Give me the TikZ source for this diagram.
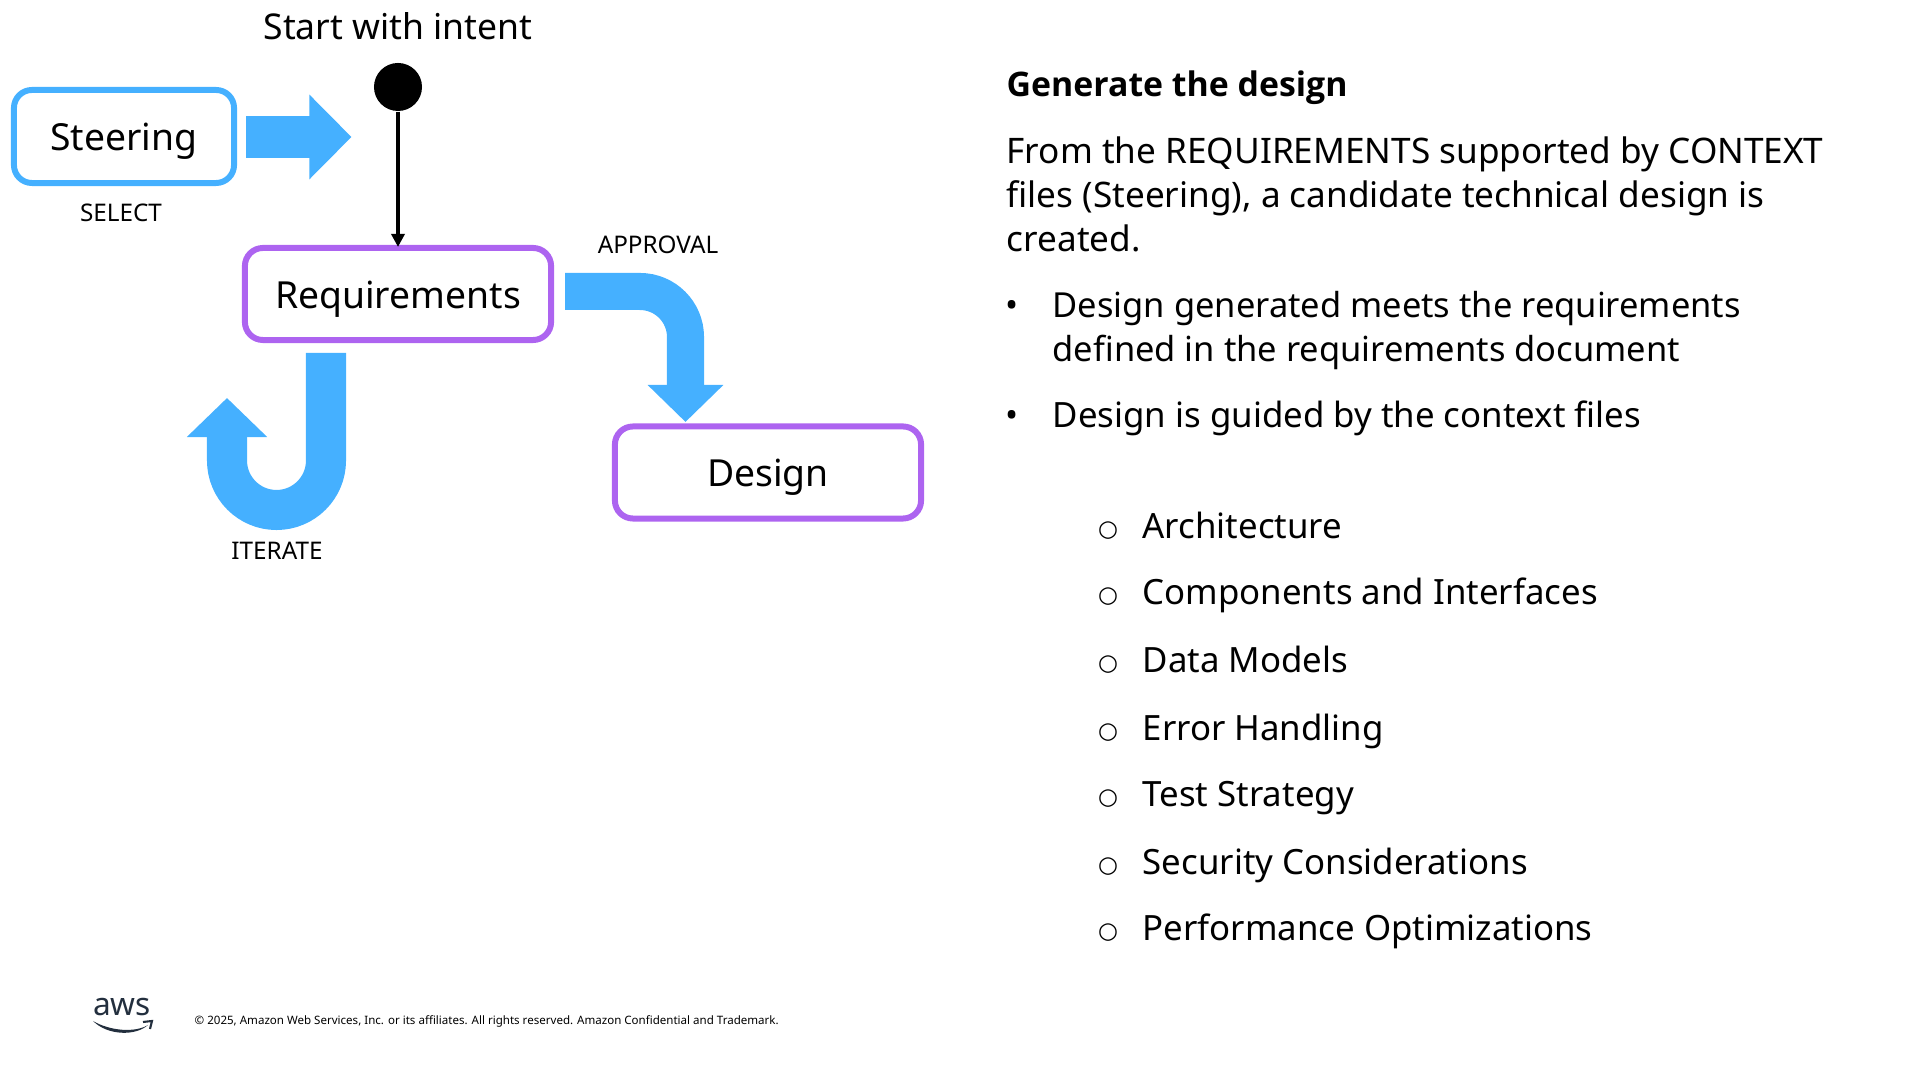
\documentclass[tikz,border=0pt]{standalone}
\usepackage{fontspec}
\setmainfont{Noto Sans}
\newfontfamily\titlefont{Open Sans}
\newfontfamily\symfont{DejaVu Sans}
\usetikzlibrary{arrows.meta}
\definecolor{flowblue}{RGB}{69,176,255}
\definecolor{stagepurple}{RGB}{173,100,240}
\definecolor{awsnavy}{RGB}{35,47,62}
\tikzset{
  stagebox/.style={draw=#1,line width=1.7pt,rounded corners=1.8mm,fill=white,
    minimum width=30.6mm,minimum height=9.2mm,inner sep=0pt,text height=10pt,text depth=2pt,
    font=\fontsize{10.6}{13}\selectfont},
  flowarrow/.style={draw=flowblue,line width=#1,line cap=butt},
  tag/.style={anchor=base,font=\fontsize{6.9}{8}\selectfont,inner sep=0pt},
  bodytext/.style={anchor=base west,align=left,inner sep=0pt,font=\fontsize{9.9}{12.6}\selectfont},
  dotmark/.style={anchor=base,inner sep=0pt,font=\fontsize{9.9}{12.6}\selectfont},
  ringmark/.style={inner sep=0pt,font=\symfont\fontsize{6.5}{8}\selectfont}
}
\begin{document}
\begin{tikzpicture}[x=0.01cm,y=-0.01cm]
  \useasboundingbox (0,0) rectangle (1920,1080);

  % left side
  \node[anchor=base,font=\fontsize{10.1}{12}\selectfont,inner sep=0pt] (intent) at (398,40) {Start with intent};
  \node[circle,fill=black,minimum size=4.8mm,inner sep=0pt] (start) at (398,87) {};
  \node[stagebox=flowblue,minimum width=22mm,minimum height=9.3mm] (steering) at (124,136.5) {Steering};
  \node[stagebox=stagepurple] (req) at (398,294) {Requirements};
  \node[stagebox=stagepurple] (design) at (768,472.5) {Design};
  \node[tag] (select) at (121,222) {SELECT};
  \node[tag] (approval) at (658,254) {APPROVAL};
  \node[tag] (iterate) at (277,560) {ITERATE};

  \draw[line width=1pt,shorten >=-0.2mm,-{Stealth[length=1.3mm,width=1.3mm,inset=0pt]}] (start) -- (req);

  % block arrows
  \coordinate (selfrom) at (246,137);
  \coordinate (selto) at (351.5,137);
  \draw[flowarrow=4.2mm,-{Triangle[length=4.2mm,width=8.2mm]}] (selfrom) -- (selto);

  \coordinate (appfrom) at (565,291.5);
  \coordinate (appto) at (685.5,422);
  \draw[flowarrow=3.7mm,rounded corners=4.55mm,-{Triangle[length=3.7mm,width=7.35mm]}] (appfrom) -| (appto);

  \coordinate (iterfrom) at (326,353);
  \coordinate (iterto) at (227,398);
  \draw[flowarrow=4mm,-{Triangle[length=3.9mm,width=7.8mm]}] (iterfrom) -- (326,460.5)
    arc[start angle=0,end angle=180,radius=49.5] -- (iterto);

  % right side
  \node[bodytext,font=\titlefont\bfseries\fontsize{9.62}{12.6}\selectfont] (title) at (1006,97) {Generate the design};
  \node[bodytext,font=\fontsize{10}{12.6}\selectfont] (para) at (1006,252) {From the REQUIREMENTS supported by CONTEXT\\files (Steering), a candidate technical design is\\created.};
  \node[dotmark] (dota) at (1012,318) {•};
  \node[bodytext,font=\fontsize{9.8}{12.6}\selectfont] (pointa) at (1052,362) {Design generated meets the requirements\\defined in the requirements document};
  \node[dotmark] (dotb) at (1012,428) {•};
  \node[bodytext] (pointb) at (1052,428) {Design is guided by the context files};

  \foreach \name/\ypos/\label in {arch/539/Architecture,comp/605/Components and Interfaces,
      data/673/Data Models,err/741/Error Handling,test/807/Test Strategy,
      sec/875/Security Considerations,perf/941/Performance Optimizations}{
    \node[ringmark] (ring\name) at (1108,\ypos-8) {○};
    \node[bodytext] (item\name) at (1142,\ypos) {\label};
  }

  % footer
  \node[anchor=base,inner sep=0pt,text=awsnavy,font=\fontsize{9}{10}\selectfont] (aws) at (122,1016) {aws};
  \fill[awsnavy] (93,1021) .. controls (110,1031) and (135,1033) .. (148,1025)
    .. controls (136,1036) and (108,1036) .. (93,1021) -- cycle;
  \draw[awsnavy,line width=0.6pt] (143,1022) -- (152,1021) -- (150,1029);
  \node[anchor=base west,inner sep=0pt,font=\fontsize{3.285}{4}\selectfont] (legal) at (194,1025)
    {© 2025, Amazon Web Services, Inc. or its affiliates. All rights reserved. Amazon Confidential and Trademark.};
\end{tikzpicture}
\end{document}
